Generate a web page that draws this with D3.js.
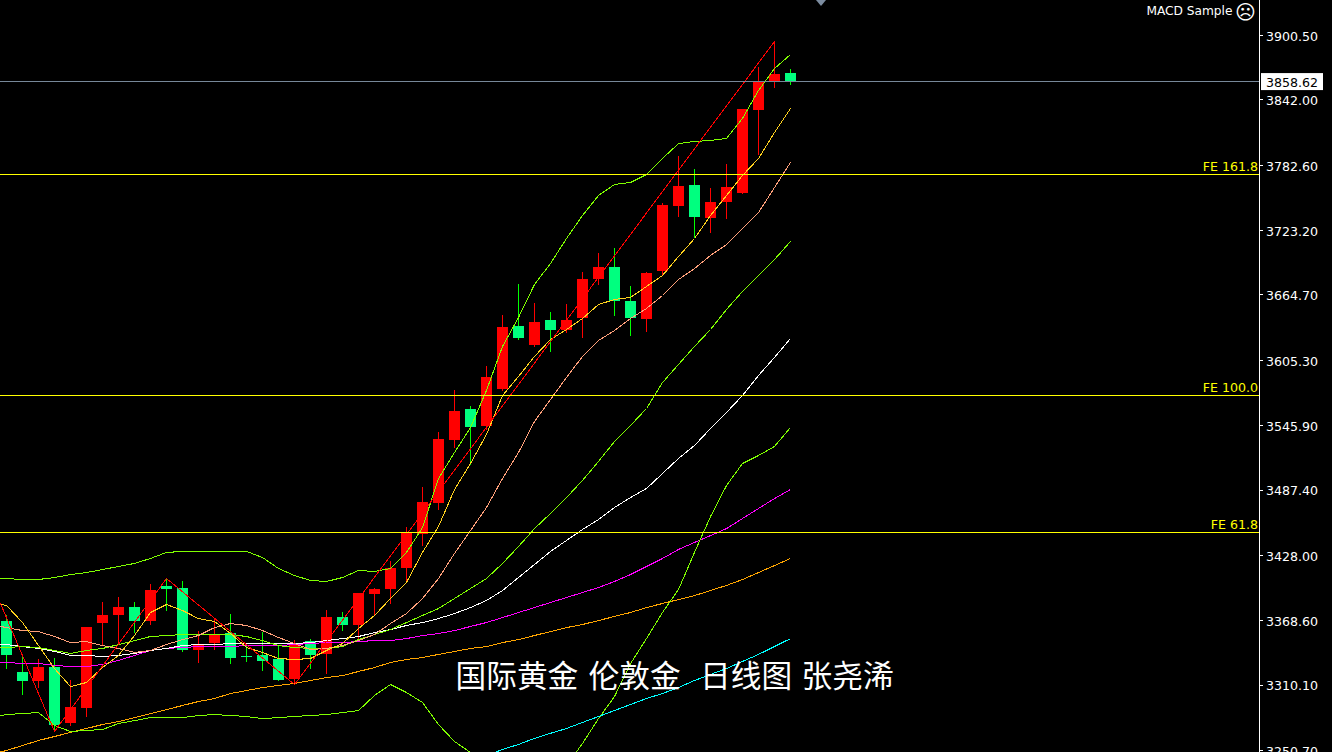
<!DOCTYPE html>
<html>
<head>
<meta charset="utf-8">
<script src="https://cdn.jsdelivr.net/npm/d3@7"></script>
<style>
  html, body { margin: 0; padding: 0; background: #000; overflow: hidden; }
  svg { display: block; }
</style>
</head>
<body>
<svg></svg>
<script>
// daily candles, red = up, green = down
var opens = [3367.9,3321.6,3313.4,3326.1,3275.2,3288.8,3366.1,3373.4,3380.6,3367.9,3399.7,3397.9,3341.6,3347.9,3357.0,3336.1,3337.1,3333.4,3315.2,3349.7,3338.0,3371.5,3364.3,3392.5,3397.0,3416.1,3447.0,3475.2,3532.4,3560.6,3545.1,3578.8,3636.0,3618.8,3641.5,3632.4,3643.3,3678.7,3689.6,3658.8,3642.4,3686.0,3745.1,3764.1,3734.2,3748.7,3756.9,3832.3,3857.8,3865.9];
var highs = [3373.4,3335.2,3333.4,3334.3,3314.3,3362.4,3385.2,3389.7,3385.2,3401.6,3407.0,3404.3,3358.8,3370.6,3374.3,3347.9,3357.9,3345.2,3350.6,3351.5,3377.9,3376.1,3393.4,3397.9,3422.5,3453.3,3489.7,3539.7,3577.9,3563.3,3599.6,3646.0,3674.2,3656.9,3648.8,3656.0,3685.1,3702.4,3706.9,3672.4,3685.1,3747.8,3790.5,3778.7,3761.4,3783.3,3833.2,3871.4,3895.0,3869.6];
var lows = [3324.3,3300.7,3307.0,3268.9,3272.5,3280.6,3345.2,3347.9,3357.0,3364.3,3377.0,3339.8,3329.8,3341.6,3328.9,3330.7,3322.5,3313.4,3310.7,3324.3,3319.8,3358.8,3350.6,3373.4,3383.4,3404.3,3436.1,3468.8,3525.1,3509.7,3541.5,3577.0,3623.3,3617.0,3612.4,3629.7,3625.1,3673.3,3645.1,3626.9,3630.6,3682.4,3735.1,3716.0,3720.6,3733.3,3756.0,3791.4,3852.3,3855.1];
var closes = [3337.1,3313.4,3326.1,3273.4,3289.7,3362.4,3373.4,3380.6,3367.9,3396.1,3397.0,3341.6,3347.0,3355.2,3334.3,3335.2,3331.6,3314.3,3347.9,3337.1,3371.5,3364.3,3393.4,3397.0,3416.1,3447.9,3476.1,3533.3,3558.8,3544.2,3589.7,3635.1,3625.1,3639.7,3632.4,3641.5,3678.7,3689.6,3658.8,3643.3,3684.2,3746.0,3763.2,3735.1,3748.7,3762.3,3833.2,3857.8,3865.0,3858.62];

// indicator series, first value sits one bar left of the first candle
var maYellow = [3385.2,3382.5,3367.0,3346.1,3325.2,3308.8,3312.5,3326.1,3337.1,3355.2,3376.1,3383.4,3377.9,3370.6,3367.9,3357.0,3344.3,3339.8,3334.3,3333.4,3334.3,3341.6,3347.9,3361.5,3373.4,3388.8,3403.4,3430.7,3454.3,3487.9,3511.5,3537.9,3573.3,3590.6,3608.8,3624.2,3633.3,3643.3,3656.0,3660.6,3662.4,3672.4,3682.4,3699.6,3716.0,3736.9,3755.1,3773.3,3788.7,3812.3,3834.2];
var maSalmon = [3365.2,3362.4,3359.7,3358.8,3354.3,3348.8,3349.7,3346.1,3343.4,3339.8,3341.6,3347.0,3351.5,3355.2,3362.4,3366.1,3364.3,3359.7,3353.4,3347.9,3342.5,3343.4,3346.1,3350.6,3356.1,3366.1,3375.2,3388.8,3407.0,3429.8,3450.6,3471.5,3497.9,3521.5,3549.7,3569.7,3589.7,3608.8,3623.3,3632.4,3643.3,3652.4,3664.2,3678.7,3688.7,3700.6,3710.5,3725.1,3739.6,3762.3,3785.1];
var maGreen = [3345.2,3344.3,3345.2,3344.3,3341.6,3338.9,3341.6,3343.4,3347.0,3350.6,3354.3,3355.2,3356.1,3356.1,3356.1,3356.1,3354.3,3350.6,3346.1,3344.3,3343.4,3343.4,3345.2,3351.5,3356.1,3360.6,3367.0,3373.4,3379.7,3388.8,3397.9,3407.0,3420.7,3436.1,3452.4,3466.1,3480.6,3496.1,3513.4,3531.5,3546.0,3561.5,3585.1,3601.5,3617.9,3633.3,3651.5,3667.9,3682.4,3696.9,3713.3];
var maWhite = [3347.9,3347.0,3345.2,3343.4,3340.7,3337.1,3337.1,3336.1,3337.1,3338.9,3341.6,3343.4,3346.1,3347.0,3347.0,3347.9,3347.9,3347.9,3347.9,3347.9,3348.8,3350.6,3352.4,3354.3,3357.9,3360.6,3364.3,3367.0,3370.6,3375.2,3380.6,3387.0,3396.1,3407.9,3419.7,3431.6,3441.6,3451.5,3460.6,3471.5,3480.6,3488.8,3502.4,3516.1,3527.9,3543.3,3557.9,3573.3,3591.5,3607.9,3625.1];
var maMagenta = [3330.7,3330.7,3329.8,3329.8,3328.0,3327.0,3327.0,3328.9,3332.5,3337.1,3341.6,3343.4,3344.3,3345.2,3345.2,3345.2,3346.1,3346.1,3346.1,3347.0,3347.9,3348.8,3348.8,3349.7,3350.6,3350.6,3352.4,3355.2,3357.0,3359.7,3363.4,3367.0,3371.5,3376.1,3380.6,3385.2,3389.7,3394.3,3398.8,3404.3,3410.6,3417.9,3425.2,3433.4,3439.8,3446.0,3452.4,3461.5,3470.6,3479.7,3487.9];
var maOrange = [3247.1,3250.7,3255.2,3259.8,3263.4,3267.1,3270.7,3274.3,3277.0,3280.6,3284.3,3287.9,3291.6,3295.2,3297.9,3302.5,3305.2,3307.9,3309.8,3311.6,3314.3,3317.0,3318.8,3322.5,3326.1,3330.7,3333.4,3335.2,3338.0,3340.7,3343.4,3345.2,3348.8,3351.5,3355.2,3358.8,3362.4,3365.2,3368.8,3372.5,3376.1,3380.6,3384.3,3387.9,3391.5,3396.1,3400.7,3406.1,3412.4,3418.8,3425.2];
var bandUpper = [3407.9,3407.0,3406.1,3406.1,3407.9,3410.6,3412.4,3415.2,3417.9,3420.7,3425.2,3430.7,3431.6,3431.6,3431.6,3431.6,3431.6,3426.1,3416.1,3409.7,3405.2,3404.3,3407.9,3414.3,3413.4,3416.1,3430.7,3453.3,3497.9,3521.5,3544.2,3577.9,3617.9,3644.2,3674.2,3693.3,3716.0,3736.9,3755.1,3765.1,3766.9,3774.2,3788.7,3802.3,3804.2,3805.1,3806.9,3825.1,3850.5,3870.5,3883.2];
var bandLower = [3280.6,3283.4,3284.3,3285.2,3273.4,3268.0,3268.9,3269.8,3275.2,3277.9,3280.6,3280.6,3280.6,3282.5,3283.4,3282.5,3281.6,3279.7,3280.6,3281.6,3282.5,3283.4,3285.2,3287.0,3300.7,3310.7,3303.4,3294.3,3274.3,3258.9,3248.9,3232.5,3223.4,3218.8,3214.3,3218.8,3237.0,3257.1,3279.7,3299.7,3329.7,3352.4,3376.1,3397.0,3430.7,3463.3,3491.5,3511.5,3518.8,3527.0,3544.2];
// cyan one only comes on screen from bar 30
var cyanStart = 30;
var maCyan = [3246.2,3251.6,3256.2,3261.7,3266.3,3270.7,3276.2,3281.6,3287.0,3292.5,3297.9,3302.5,3307.9,3314.3,3319.8,3325.2,3331.6,3338.0,3345.2,3352.4];

var zigIndex = [-0.375, 3, 10, 18, 48];
var zigPrice = [3384.3, 3268.0, 3407.0, 3310.7, 3895.0];

var tickPrices = [3900.5,3842,3782.6,3723.2,3664.7,3605.3,3545.9,3487.4,3428,3368.6,3310.1,3250.7];
var lastPrice = 3858.62;
var feLevels = [3774.2, 3573.3, 3448.8];
var feLabels = ["FE 161.8", "FE 100.0", "FE 61.8"];

var titleParts = ["国际黄金", "伦敦金", "日线图", "张尧浠"];
var titleX = [455.5, 588.5, 700, 801.5];

var width = 1332;
var height = 752;
var axisX = 1259;
var labelFont = '"DejaVu Sans", sans-serif';

var svg = d3.select("svg")
    .attr("width", width)
    .attr("height", height)
    .style("background", "#000");

var xScale = d3.scaleLinear()
    .domain([0, 49])
    .range([6, 790]);

var yScale = d3.scaleLinear()
    .domain([3250.7, 3900.5])
    .range([750, 35]);

var plot = svg.append("g").attr("shape-rendering", "crispEdges");

// candles
var bars = d3.range(opens.length);

plot.selectAll(".wick")
    .data(bars)
    .enter()
    .append("rect")
    .attr("class", "wick")
    .attr("x", i => xScale(i))
    .attr("y", i => Math.round(yScale(highs[i])))
    .attr("width", 1)
    .attr("height", i => Math.round(yScale(lows[i])) - Math.round(yScale(highs[i])))
    .attr("fill", i => closes[i] >= opens[i] ? "#ff0000" : "#00ff00");

plot.selectAll(".body")
    .data(bars)
    .enter()
    .append("rect")
    .attr("class", "body")
    .attr("x", i => xScale(i) - 5)
    .attr("y", i => Math.round(yScale(Math.max(opens[i], closes[i]))))
    .attr("width", 11)
    .attr("height", i => Math.max(1, Math.round(yScale(Math.min(opens[i], closes[i]))) - Math.round(yScale(Math.max(opens[i], closes[i])))))
    .attr("fill", i => closes[i] >= opens[i] ? "#ff0000" : "#00ff7f");

// indicator lines
var line = d3.line()
    .x(d => xScale(d[0]) + 0.5)
    .y(d => yScale(d[1]) + 0.5);

function drawSeries(values, start, color) {
    var pts = values.map((v, i) => [start + i, v]);
    plot.append("path")
        .datum(pts)
        .attr("d", line)
        .attr("fill", "none")
        .attr("stroke", color)
        .attr("stroke-width", 1);
}

drawSeries(maOrange, -1, "#ffa500");
drawSeries(maMagenta, -1, "#ff00ff");
drawSeries(maWhite, -1, "#ffffff");
drawSeries(maGreen, -1, "#80ff00");
drawSeries(maSalmon, -1, "#ffa07a");
drawSeries(maYellow, -1, "#ffd21e");
drawSeries(bandUpper, -1, "#80ff00");
drawSeries(bandLower, -1, "#80ff00");
drawSeries(maCyan, cyanStart, "#00ffff");

plot.append("path")
    .datum(zigIndex.map((v, i) => [v, zigPrice[i]]))
    .attr("d", line)
    .attr("fill", "none")
    .attr("stroke", "#ff0000")
    .attr("stroke-width", 1);

// horizontal levels
plot.selectAll(".fe")
    .data(feLevels)
    .enter()
    .append("line")
    .attr("class", "fe")
    .attr("x1", 0)
    .attr("x2", axisX)
    .attr("y1", d => Math.round(yScale(d)) + 0.5)
    .attr("y2", d => Math.round(yScale(d)) + 0.5)
    .attr("stroke", "#ffff00");

plot.append("line")
    .attr("x1", 0)
    .attr("x2", axisX)
    .attr("y1", Math.round(yScale(lastPrice)) + 0.5)
    .attr("y2", Math.round(yScale(lastPrice)) + 0.5)
    .attr("stroke", "#778899");

svg.selectAll(".feLabel")
    .data(feLevels)
    .enter()
    .append("text")
    .attr("class", "feLabel")
    .attr("x", axisX - 1)
    .attr("y", d => Math.round(yScale(d)) - 3)
    .attr("text-anchor", "end")
    .attr("font-family", labelFont)
    .attr("font-size", 12.6)
    .attr("fill", "#ffff00")
    .text((d, i) => feLabels[i]);

// price axis
var axis = d3.axisRight(yScale)
    .tickValues(tickPrices)
    .tickFormat(d3.format(".2f"))
    .tickSize(4)
    .tickPadding(3);

var axisG = svg.append("g")
    .attr("transform", "translate(" + axisX + ",0)")
    .attr("shape-rendering", "crispEdges")
    .call(axis);

axisG.select(".domain").remove();
axisG.selectAll("line").attr("stroke", "#fff");
axisG.selectAll("text")
    .attr("fill", "#fff")
    .attr("font-family", labelFont)
    .attr("font-size", 12.6)
    .attr("dy", "0.42em");

svg.append("line")
    .attr("x1", axisX + 0.5)
    .attr("x2", axisX + 0.5)
    .attr("y1", 0)
    .attr("y2", height)
    .attr("stroke", "#fff")
    .attr("shape-rendering", "crispEdges");

// current price tag
svg.append("rect")
    .attr("x", axisX + 2)
    .attr("y", yScale(lastPrice) - 8)
    .attr("width", 62)
    .attr("height", 17)
    .attr("fill", "#fff");

svg.append("text")
    .attr("x", axisX + 7)
    .attr("y", yScale(lastPrice) + 5.5)
    .attr("font-family", labelFont)
    .attr("font-size", 12.6)
    .attr("fill", "#000")
    .text(d3.format(".2f")(lastPrice));

// expert name and smiley
svg.append("text")
    .attr("x", 1232.5)
    .attr("y", 15)
    .attr("text-anchor", "end")
    .attr("font-family", labelFont)
    .attr("font-size", 12.2)
    .attr("fill", "#fff")
    .text("MACD Sample");

svg.append("text")
    .attr("x", 1245.5)
    .attr("y", 19)
    .attr("text-anchor", "middle")
    .attr("font-family", labelFont)
    .attr("font-size", 20)
    .attr("fill", "#fff")
    .text("\u2639");

// little marker at the top edge
svg.append("path")
    .attr("d", d3.line()([[816, 0], [826, 0], [821, 6]]))
    .attr("fill", "#7c8ca0");

// overlay title
svg.selectAll(".title")
    .data(titleParts)
    .enter()
    .append("text")
    .attr("class", "title")
    .attr("x", (d, i) => titleX[i])
    .attr("y", 687)
    .attr("font-family", '"Noto Sans CJK SC", sans-serif')
    .attr("font-size", 30.7)
    .attr("fill", "#fff")
    .text(d => d);
</script>
</body>
</html>
